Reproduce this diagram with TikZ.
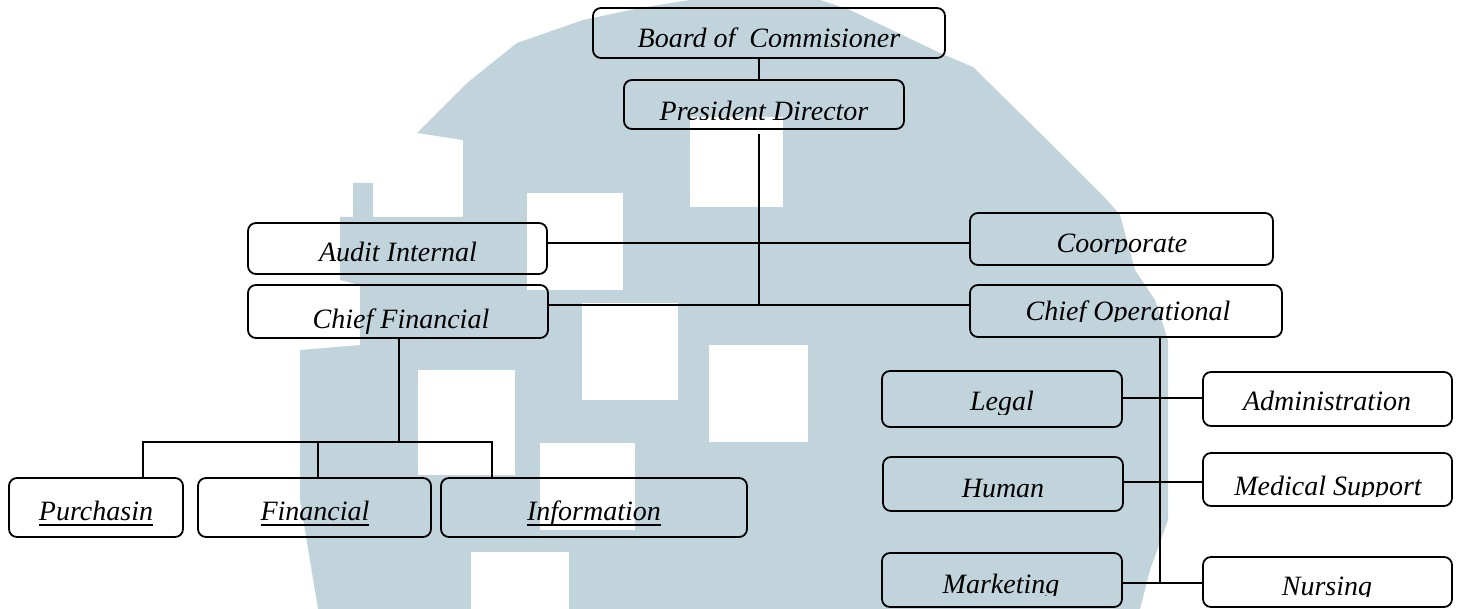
\documentclass[tikz,border=0pt]{standalone}
\usepackage{fontspec}
\setmainfont{Liberation Serif}
\usetikzlibrary{calc}

\definecolor{wmblue}{RGB}{194,212,219}

% underlined word with a fixed rule below the baseline
\newsavebox\ulsave
\newcommand\ulword[1]{\sbox\ulsave{#1}\rlap{\rule[-6pt]{\wd\ulsave}{1.8pt}}\usebox\ulsave}

\tikzset{
  orgbox/.style={draw=black, line width=1.8pt, rounded corners=8pt, inner sep=0pt},
  lbl/.style={font=\fontsize{28}{32}\selectfont\itshape, inner sep=0pt, anchor=base},
  link/.style={line width=1.8pt},
}

% box from its corners: name, x1, y1, x2, y2
\newcommand\orgnode[5]{%
  \node[orgbox, minimum width={#4-#2}, minimum height={#5-#3}] (#1) at ({(#2+#4)/2},{(#3+#5)/2}) {};}
% label of a box, cut off below a given line: box name, x, baseline, cut line, text
\newcommand\orglabel[5]{%
  \begin{scope}
    \clip (#1.north west) rectangle (#1.east |- 0,#4);
    \node[lbl] (#1-t) at (#2,#3) {#5};
  \end{scope}}

\begin{document}
\begin{tikzpicture}[x=1pt, y=-1pt]
  \useasboundingbox (0,0) rectangle (1463,609);
  \fill[white] (0,0) rectangle (1463,609);

  % background emblem
  \fill[wmblue] (417,133) -- (467,83) -- (517,43) -- (583,20) -- (640,8) -- (690,0)
    -- (820,0) -- (850,10) -- (940,53) -- (973,67) -- (1040,133) -- (1107,200)
    -- (1120,215) -- (1135,270) -- (1155,300) -- (1168,340) -- (1168,520)
    -- (1150,570) -- (1140,609) -- (318,609) -- (300,500) -- (300,350)
    -- (360,345) -- (360,285) -- (340,280) -- (340,217) -- (353,217) -- (353,183)
    -- (373,183) -- (373,217) -- (463,217) -- (463,140) -- cycle;
  \fill[white] (527,193) rectangle (623,290);
  \fill[white] (690,117) rectangle (783,207);
  \fill[white] (582,303) rectangle (678,400);
  \fill[white] (709,345) rectangle (808,442);
  \fill[white] (418,370) rectangle (515,475);
  \fill[white] (540,443) rectangle (635,530);
  \fill[white] (471,552) rectangle (569,609);

  % boxes
  \orgnode{board}{593}{8}{945}{58}
  \orgnode{pres}{624}{80}{904}{129}
  \orgnode{audit}{248}{223}{547}{274}
  \orgnode{coorp}{970}{213}{1273}{265}
  \orgnode{cf}{248}{285}{548}{338}
  \orgnode{co}{970}{285}{1282}{337}
  \orgnode{purch}{9}{478}{183}{537}
  \orgnode{fin}{198}{478}{431}{537}
  \orgnode{info}{441}{478}{747}{537}
  \orgnode{legal}{882}{371}{1122}{427}
  \orgnode{admin}{1203}{372}{1452}{426}
  \orgnode{human}{883}{457}{1123}{511}
  \orgnode{med}{1203}{453}{1452}{506}
  \orgnode{mkt}{882}{553}{1122}{607}
  \orgnode{nurs}{1203}{557}{1452}{607}

  % labels
  \orglabel{board}{769}{48}{46.5}{Board of\ \ Commisioner}
  \orglabel{pres}{764}{120.5}{119.5}{President Director}
  \orglabel{audit}{398}{262}{274}{Audit Internal}
  \orglabel{coorp}{1122}{253}{254}{Coorporate}
  \orglabel{cf}{401}{328}{338}{Chief Financial}
  \orglabel{co}{1128}{320}{321}{Chief Operational}
  \orglabel{purch}{96}{520}{537}{\ulword{Purchasin}}
  \orglabel{fin}{315}{520}{537}{\ulword{Financial}}
  \orglabel{info}{594}{520}{537}{\ulword{Information}}
  \orglabel{legal}{1002}{410}{414}{Legal}
  \orglabel{admin}{1327}{410}{426}{Administration}
  \orglabel{human}{1003}{497}{511}{Human}
  \orglabel{med}{1328}{495}{496}{Medical Support}
  \orglabel{mkt}{1001}{593}{595}{Marketing}
  \orglabel{nurs}{1327}{595}{596}{Nursing}

  % junction points
  \coordinate (jtop) at (759,243);
  \coordinate (jmid) at (759,305);
  \coordinate (fork) at (399,442);
  \coordinate (pdrop) at (143,442);
  \coordinate (fdrop) at (318,442);
  \coordinate (idrop) at (492,442);
  \coordinate (lv1) at (1160,398);
  \coordinate (lv2) at (1160,482);
  \coordinate (rbot) at (1160,583);

  % connectors
  \draw[link] (board.south -| jtop) -- (pres.north -| jtop);
  \draw[link] ([yshift=-4pt]pres.south -| jtop) -- (jmid);
  \draw[link] (audit.east |- jtop) -- (coorp.west |- jtop);
  \draw[link] (cf.east |- jmid) -- (co.west |- jmid);

  \draw[link] (cf.south -| fork) -- (fork);
  \draw[link] (purch.north -| pdrop) -- (pdrop) -- (idrop) -- (info.north -| idrop);
  \draw[link] (fdrop) -- (fin.north -| fdrop);

  \draw[link] (co.south -| rbot) -- (rbot);
  \draw[link] (legal.east |- lv1) -- (admin.west |- lv1);
  \draw[link] (human.east |- lv2) -- (med.west |- lv2);
  \draw[link] (mkt.east |- rbot) -- (nurs.west |- rbot);
\end{tikzpicture}
\end{document}
